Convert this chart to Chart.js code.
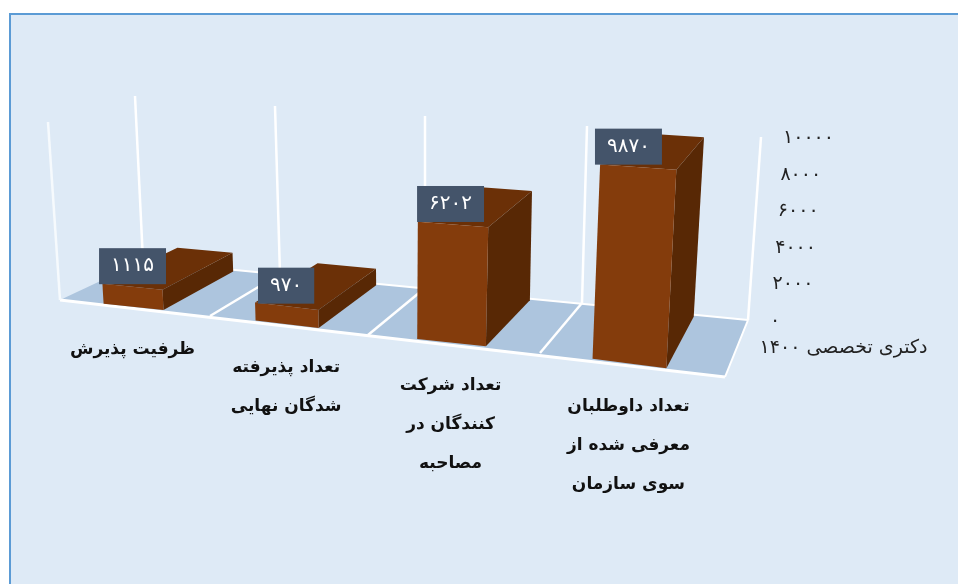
<!DOCTYPE html>
<html lang="fa">
<head>
    <meta charset="UTF-8">
    <title>دکتری تخصصی ۱۴۰۰</title>
    <script src="https://cdn.jsdelivr.net/npm/chart.js"></script>
    <style>
        html, body { margin: 0; padding: 0; background: #ffffff; overflow: hidden; }
        .panel {
            position: absolute;
            left: 9px;
            top: 13px;
            right: 0;
            bottom: 0;
            background: #deeaf6;
            border-top: 2px solid #5b9bd5;
            border-left: 2px solid #5b9bd5;
        }
        #chart { position: absolute; left: 0; top: 0; }
    </style>
</head>
<body>
    <div class="panel"></div>
    <canvas id="chart" width="958" height="584"></canvas>
    <script>
        const categories = [
            ['ظرفیت پذیرش'],
            ['تعداد پذیرفته', 'شدگان نهایی'],
            ['تعداد شرکت', 'کنندگان در', 'مصاحبه'],
            ['تعداد داوطلبان', 'معرفی شده از', 'سوی سازمان']
        ];
        const seriesLabel = 'دکتری تخصصی ۱۴۰۰';
        const seriesValues = [1115, 970, 6202, 9870];
        const valueLabels = ['۱۱۱۵', '۹۷۰', '۶۲۰۲', '۹۸۷۰'];
        const yTickLabels = ['۰', '۲۰۰۰', '۴۰۰۰', '۶۰۰۰', '۸۰۰۰', '۱۰۰۰۰'];

        // the 3d box on screen: floor and ceiling outline at each category boundary
        const frontFloor = [[60, 300], [210, 316], [368, 335], [540, 353], [725, 377]];
        const backFloor = [[143, 261], [280, 274], [425, 288], [582, 303], [748, 320]];
        const frontTop = [[48, 122], [203, 131], [367, 147], [546, 159], [737, 172]];
        const backTop = [[135, 96], [275, 106], [425, 116], [587, 126], [761, 137]];

        const barFrontDepth = 0.02;
        const barBackDepth = 0.96;
        const barShift = -0.02;

        const mix = (a, b, t) => [a[0] + (b[0] - a[0]) * t, a[1] + (b[1] - a[1]) * t];

        // u: category units, v: depth 0..1, h: height 0..1
        function project(u, v, h) {
            const i = Math.min(Math.floor(u), 3);
            const t = u - i;
            const floor = mix(mix(frontFloor[i], frontFloor[i + 1], t), mix(backFloor[i], backFloor[i + 1], t), v);
            const top = mix(mix(frontTop[i], frontTop[i + 1], t), mix(backTop[i], backTop[i + 1], t), v);
            return mix(floor, top, h);
        }

        function fillPoly(ctx, points, color) {
            ctx.beginPath();
            points.forEach((p, i) => i ? ctx.lineTo(p[0], p[1]) : ctx.moveTo(p[0], p[1]));
            ctx.closePath();
            ctx.fillStyle = color;
            ctx.fill();
        }

        function strokeLine(ctx, a, b, width, color) {
            ctx.beginPath();
            ctx.moveTo(a[0], a[1]);
            ctx.lineTo(b[0], b[1]);
            ctx.lineWidth = width;
            ctx.strokeStyle = color;
            ctx.stroke();
        }

        const box3d = {
            id: 'box3d',
            beforeDatasetsDraw(chart) {
                const ctx = chart.ctx;
                const n = categories.length;
                fillPoly(ctx, [project(0, 0, 0), project(n, 0, 0), project(n, 1, 0), project(0, 1, 0)], '#adc5de');
                strokeLine(ctx, project(0, 1, 0), project(n, 1, 0), 2, '#ffffff');
                strokeLine(ctx, project(n, 0, 0), project(n, 1, 0), 2, '#ffffff');
                for (let i = 1; i < n; i++) {
                    strokeLine(ctx, project(i, 0, 0), project(i, 1, 0), 2.5, '#ffffff');
                }
                strokeLine(ctx, project(0, 0, 0), project(n, 0, 0), 3, '#ffffff');
                strokeLine(ctx, project(0, 0, 0), project(0, 0, 1), 2.5, '#f6fafd');
                for (let i = 0; i <= n; i++) {
                    strokeLine(ctx, project(i, 1, 0), project(i, 1, 1), 2.5, '#ffffff');
                }
            },
            // bars are drawn in afterDatasetsDraw because they are projected
            beforeDatasetDraw() {
                return false;
            },
            afterDatasetsDraw(chart) {
                const ctx = chart.ctx;
                const area = chart.chartArea;
                const meta = chart.getDatasetMeta(0);
                const unit = (area.right - area.left) / categories.length;
                const toH = y => (area.bottom - y) / (area.bottom - area.top);
                const centers = [];

                meta.data.forEach(bar => {
                    const u0 = (bar.x - bar.width / 2 - area.left) / unit + barShift;
                    const u1 = (bar.x + bar.width / 2 - area.left) / unit + barShift;
                    const h0 = toH(bar.base);
                    const h = toH(bar.y);
                    const f = barFrontDepth;
                    const b = barBackDepth;
                    fillPoly(ctx, [project(u0, f, h), project(u1, f, h), project(u1, b, h), project(u0, b, h)], '#6b3007');
                    fillPoly(ctx, [project(u1, f, h0), project(u1, b, h0), project(u1, b, h), project(u1, f, h)], '#582805');
                    fillPoly(ctx, [project(u0, f, h0), project(u1, f, h0), project(u1, f, h), project(u0, f, h)], '#843c0c');
                    centers.push({ top: project((u0 + u1) / 2, f, h), bottom: project((u0 + u1) / 2, f, h0) });
                });

                ctx.save();
                ctx.direction = 'rtl';
                ctx.textAlign = 'center';
                ctx.textBaseline = 'middle';

                // value boxes
                centers.forEach((c, i) => {
                    ctx.font = '20px "DejaVu Sans"';
                    const w = ctx.measureText(valueLabels[i]).width + 24;
                    const x = c.bottom[0] - 1;
                    const y = c.top[1] - 2.5;
                    ctx.fillStyle = '#44546a';
                    ctx.fillRect(x - w / 2, y - 36, w, 36);
                    ctx.fillStyle = '#ffffff';
                    ctx.fillText(valueLabels[i], x, y - 18);
                });

                // category labels
                ctx.font = 'bold 17px "DejaVu Sans"';
                ctx.fillStyle = '#111111';
                centers.forEach((c, i) => {
                    categories[i].forEach((line, k) => {
                        ctx.fillText(line, c.bottom[0] - 1, c.bottom[1] + 43 + k * 39);
                    });
                });

                // value axis, along the back right edge
                const yScale = chart.scales.y;
                ctx.font = '19px "DejaVu Sans"';
                ctx.textAlign = 'left';
                ctx.direction = 'ltr';
                ctx.fillStyle = '#222222';
                yScale.ticks.forEach((tick, i) => {
                    const p = project(categories.length, 1, toH(yScale.getPixelForValue(tick.value)));
                    ctx.fillText(yTickLabels[i], p[0] + 22, p[1] + 1);
                });

                // depth axis label
                ctx.font = '19px "DejaVu Sans"';
                ctx.textAlign = 'center';
                ctx.direction = 'rtl';
                ctx.fillStyle = '#222222';
                const corner = project(categories.length, 0.5, 0);
                ctx.fillText(seriesLabel, corner[0] + 107, corner[1]);
                ctx.restore();
            }
        };

        new Chart(document.getElementById('chart'), {
            type: 'bar',
            data: {
                labels: categories,
                datasets: [{
                    label: seriesLabel,
                    data: seriesValues,
                    backgroundColor: '#843c0c',
                    barPercentage: 0.4,
                    categoryPercentage: 1
                }]
            },
            options: {
                responsive: false,
                animation: false,
                layout: { padding: 0 },
                plugins: {
                    legend: { display: false },
                    tooltip: { enabled: false }
                },
                scales: {
                    x: { display: false },
                    y: { display: false, min: 0, max: 10000, ticks: { stepSize: 2000 } }
                }
            },
            plugins: [box3d]
        });
    </script>
</body>
</html>
